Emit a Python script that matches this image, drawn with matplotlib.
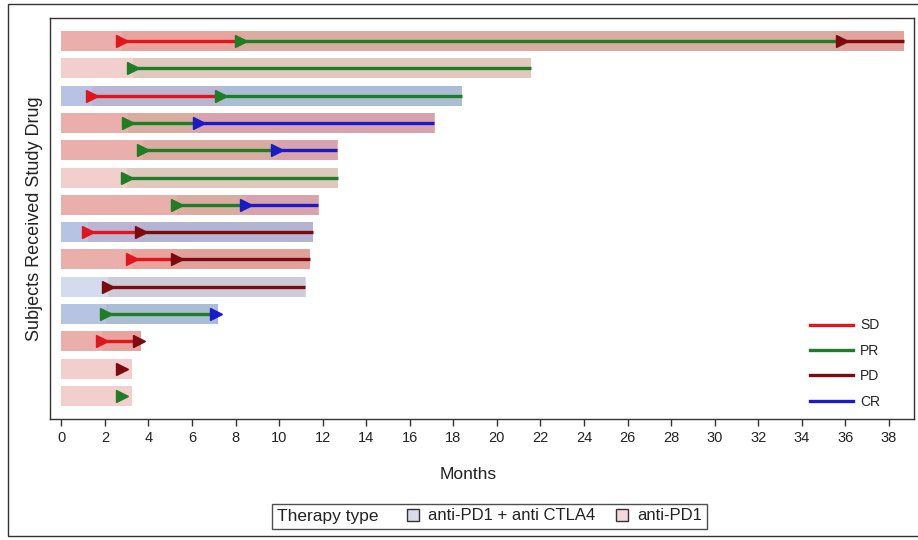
import matplotlib
matplotlib.use("Agg")
import matplotlib.pyplot as plt
from matplotlib.lines import Line2D
from matplotlib.patches import Patch, Rectangle

plt.rcParams['font.family'] = ['Liberation Sans', 'DejaVu Sans']

# ---------------- data ----------------
subjects = list(range(1, 15))
therapy = ['anti-PD1', 'anti-PD1', 'anti-PD1 + anti CTLA4', 'anti-PD1', 'anti-PD1',
           'anti-PD1', 'anti-PD1', 'anti-PD1 + anti CTLA4', 'anti-PD1',
           'anti-PD1 + anti CTLA4', 'anti-PD1 + anti CTLA4', 'anti-PD1', 'anti-PD1', 'anti-PD1']
duration = [38.69, 21.56, 18.40, 17.15, 12.71, 12.69, 11.82, 11.54, 11.40, 11.22, 7.18, 3.67, 3.26, 3.26]
highlight = [1, 0, 1, 1, 1, 0, 1, 1, 1, 0, 1, 1, 0, 0]

seg_subject = [1, 1, 1, 2, 3, 3, 4, 4, 5, 5, 6, 7, 7, 8, 8, 9, 9, 10, 11, 11, 12, 12, 13, 14]
seg_status = ['SD', 'PR', 'PD', 'PR', 'SD', 'PR', 'PR', 'CR', 'PR', 'CR', 'PR', 'PR', 'CR',
              'SD', 'PD', 'SD', 'PD', 'PD', 'PR', 'CR', 'SD', 'PD', 'PD', 'PR']
seg_start = [2.77, 8.24, 35.84, 3.28, 1.39, 7.32, 3.05, 6.31, 3.73, 9.89, 3.00, 5.30, 8.47,
             1.21, 3.64, 3.23, 5.30, 2.13, 2.07, 7.09, 1.87, 3.57, 2.77, 2.77]
seg_end = [8.24, 35.84, 38.69, 21.56, 7.32, 18.40, 6.31, 17.10, 9.89, 12.65, 12.69, 8.47, 11.78,
           3.64, 11.54, 5.30, 11.40, 11.20, 7.09, 7.18, 3.57, 3.67, 2.77, 2.77]

status_order = ['SD', 'PR', 'PD', 'CR']
therapy_order = ['anti-PD1 + anti CTLA4', 'anti-PD1']
xticks = list(range(0, 40, 2))

# ---------------- style ----------------
status_color = {'SD': '#E0161C', 'PR': '#1E7E26', 'PD': '#7C0A0E', 'CR': '#1A1AC8'}
therapy_base = {'anti-PD1 + anti CTLA4': '#7189C9', 'anti-PD1': '#D76159'}
therapy_swatch = {'anti-PD1 + anti CTLA4': '#D9DAEA', 'anti-PD1': '#F2D8DC'}
bar_h = 0.73

W, H = 918, 540
fig = plt.figure(figsize=(W / 100, H / 100), dpi=100)
ax = fig.add_axes([49.5 / W, 1 - 419 / H, (914 - 49.5) / W, (419 - 18) / H])

# outer frame
fig.patches.append(Rectangle((8 / W, 4 / H), 1.2, (536 - 4) / H, transform=fig.transFigure,
                             fill=False, edgecolor='#333333', linewidth=1.0, clip_on=False))

# background bars
for s, t, d, hl in zip(subjects, therapy, duration, highlight):
    ax.barh(s, d, left=0, height=bar_h, color=therapy_base[t],
            alpha=0.5 if hl else 0.3, linewidth=0, zorder=1)

# translucent status bands
for s, st, a, b in zip(seg_subject, seg_status, seg_start, seg_end):
    ax.barh(s, b - a, left=a, height=bar_h, color=status_color[st], alpha=0.08,
            linewidth=0, zorder=2)

# status lines
for s, st, a, b in zip(seg_subject, seg_status, seg_start, seg_end):
    ax.plot([a, b], [s, s], color=status_color[st], lw=2.4, solid_capstyle='butt', zorder=3)

# markers at status start
for s, st, a in zip(seg_subject, seg_status, seg_start):
    ax.plot([a], [s], marker='>', ms=8, color=status_color[st], mec=status_color[st],
            linestyle='none', zorder=4)

ax.set_xlim(-0.54, 39.15)
ax.set_ylim(14 + 23 / 27.3, 1 - 23 / 27.3)
ax.set_xticks(xticks)
ax.set_xticklabels([str(v) for v in xticks], fontsize=10.5, color='#222222')
ax.set_yticks([])
ax.tick_params(axis='x', length=5, width=1, color='#333333', pad=4)
for sp in ax.spines.values():
    sp.set_color('#333333')
    sp.set_linewidth(1.0)

ax.set_xlabel('Months', fontsize=12.5, color='#222222')
ax.xaxis.set_label_coords(0.484, -0.12)
ax.set_ylabel('Subjects Received Study Drug', fontsize=13, color='#222222')
ax.yaxis.set_label_coords(-0.008, 0.5)

# status legend
handles = [Line2D([], [], color=status_color[k], lw=2.4) for k in status_order]
leg1 = ax.legend(handles, status_order, loc='lower right', bbox_to_anchor=(0.973, 0.0),
                 frameon=False, fontsize=10, handlelength=3.1, handletextpad=0.5,
                 labelspacing=0.82, borderaxespad=0.35)
for t in leg1.get_texts():
    t.set_color('#222222')

# therapy legend
th_handles = [Patch(facecolor='none', edgecolor='none')] + \
             [Patch(facecolor=therapy_swatch[k], edgecolor='#333333', linewidth=1.0) for k in therapy_order]
th_labels = ['Therapy type'] + therapy_order
leg2 = fig.legend(th_handles, th_labels, loc='center', bbox_to_anchor=(489.5 / W, 1 - 516 / H),
                  ncol=3, fontsize=12, frameon=True, fancybox=False, edgecolor='#222222',
                  handlelength=0.72, handleheight=0.72, handletextpad=0.55, columnspacing=1.2,
                  borderpad=0.3)
leg2.get_frame().set_linewidth(1.0)
for i, t in enumerate(leg2.get_texts()):
    t.set_color('#222222')
    if i == 0:
        t.set_fontsize(12.5)

# collapse the empty handle slot in front of "Therapy type"
try:
    first_row = leg2._legend_handle_box.get_children()[0].get_children()[0]
    first_row.get_children()[0].width = 0
    first_row.sep = 6
    first_row.get_children().reverse()
except Exception:
    pass

fig.savefig('out.png', dpi=100)
